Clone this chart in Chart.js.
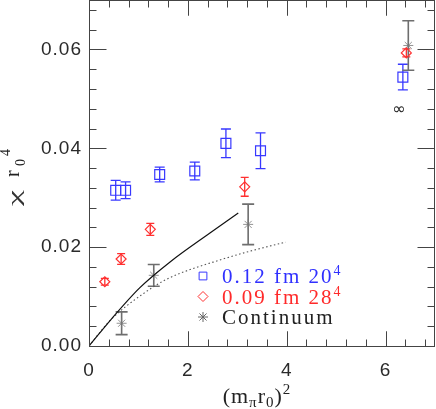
<!DOCTYPE html>
<html><head><meta charset="utf-8">
<script src="https://cdn.jsdelivr.net/npm/chart.js@4.4.1/dist/chart.umd.min.js"></script>
<style>html,body{margin:0;padding:0;background:#fff;overflow:hidden}</style>
</head><body><canvas id="c" width="436" height="409" style="width:436px;height:409px;display:block"></canvas>
<script>
// ---- data ----
const X_TICKS = [0, 2, 4, 6];
const Y_TICKS = [0, 0.02, 0.04, 0.06];

const BLUE_X   = [0.54, 0.74, 1.43, 2.14, 2.77, 3.47, 6.35];
const BLUE_Y   = [0.0315, 0.0315, 0.0347, 0.0354, 0.0410, 0.0395, 0.0544];
const BLUE_ERR = [0.0020, 0.0017, 0.0015, 0.0018, 0.0029, 0.0036, 0.0026];

const RED_X   = [0.32, 0.65, 1.24, 3.15, 6.42];
const RED_Y   = [0.0130, 0.0176, 0.0236, 0.0322, 0.0593];
const RED_ERR = [0.0007, 0.0011, 0.0012, 0.0019, 0.0008];

const CONT_X   = [0.66, 1.31, 3.22, 6.46];
const CONT_Y   = [0.0046, 0.0143, 0.0246, 0.0608];
const CONT_ERR = [0.0023, 0.0022, 0.0041, 0.0050];

const SOLID_X = [0, 0.44, 1.03, 1.64, 2.44, 3.02];
const SOLID_Y = [0, 0.0053, 0.0118, 0.0170, 0.0228, 0.0269];

const DOT_X = [0, 0.44, 1.10, 1.57, 2.68, 3.89, 3.98];
const DOT_Y = [0, 0.0053, 0.0106, 0.0135, 0.0175, 0.0208, 0.0210];

const LEGEND = [
  { text: '0.12 fm 20', sup: '4', color: '#3030ff', mark: '#3838ff', style: 'rect' },
  { text: '0.09 fm 28', sup: '4', color: '#ff2a2a', mark: '#ff3030', style: 'rectRot' },
  { text: 'Continuum', sup: '', color: '#222222', mark: '#666666', style: 'star' }
];
const INF_LABEL = { x: 6.27, y: 0.0477, text: '\u221E' };

const BLUE = '#3838ff', RED = '#ff3030';

const pts = (xs, ys) => xs.map((x, i) => ({ x: x, y: ys[i] }));

const ERRS = [
  { xs: BLUE_X, ys: BLUE_Y, es: BLUE_ERR, color: BLUE, cap: 5, lw: 1.3 },
  { xs: RED_X, ys: RED_Y, es: RED_ERR, color: RED, cap: 4, lw: 1.3 },
  { xs: CONT_X, ys: CONT_Y, es: CONT_ERR, color: '#6e6e6e', cap: 6, lw: 1.6 }
];

const SERIF = '"Liberation Serif", "DejaVu Serif", serif';

const zeroPad = s => { s.paddingTop = 0; s.paddingBottom = 0; s.paddingLeft = 0; s.paddingRight = 0; };

const overlay = {
  id: 'overlay',
  beforeDraw(chart) { chart.ctx.letterSpacing = '1px'; },
  beforeDatasetsDraw(chart) {
    const ctx = chart.ctx, xs = chart.scales.x, ys = chart.scales.y;
    ctx.save();
    ctx.letterSpacing = '0px';
    ERRS.forEach(s => {
      ctx.strokeStyle = s.color; ctx.lineWidth = s.lw;
      s.xs.forEach((x, i) => {
        const px = xs.getPixelForValue(x);
        const pt = ys.getPixelForValue(s.ys[i] + s.es[i]);
        const pb = ys.getPixelForValue(s.ys[i] - s.es[i]);
        ctx.beginPath();
        ctx.moveTo(px, pt); ctx.lineTo(px, pb);
        ctx.moveTo(px - s.cap, pt); ctx.lineTo(px + s.cap, pt);
        ctx.moveTo(px - s.cap, pb); ctx.lineTo(px + s.cap, pb);
        ctx.stroke();
      });
    });
    ctx.restore();
  },
  afterDraw(chart) {
    const ctx = chart.ctx, xs = chart.scales.x, ys = chart.scales.y, a = chart.chartArea;
    ctx.save();
    ctx.letterSpacing = '0px';
    // frame
    ctx.strokeStyle = '#444'; ctx.lineWidth = 1;
    const L = Math.round(a.left) + 0.5, R = Math.round(a.right) - 0.5, T = Math.round(a.top) + 0.5, B = Math.round(a.bottom) + 0.5;
    ctx.strokeRect(L, T, R - L, B - T);
    ctx.beginPath();
    for (let k = 0; k <= 17; k++) {
      const v = k * 0.4; if (v > xs.max + 1e-9) break;
      const major = X_TICKS.some(t => Math.abs(t - v) < 1e-6);
      const len = major ? 15 : 7;
      const px = Math.round(xs.getPixelForValue(v)) + 0.5;
      ctx.moveTo(px, B); ctx.lineTo(px, B - len);
      ctx.moveTo(px, T); ctx.lineTo(px, T + len);
    }
    for (const t of X_TICKS) {
      const px = Math.round(xs.getPixelForValue(t)) + 0.5;
      ctx.moveTo(px, B); ctx.lineTo(px, B - 15);
      ctx.moveTo(px, T); ctx.lineTo(px, T + 15);
    }
    for (let k = 0; k <= 17; k++) {
      const v = k * 0.004; if (v > ys.max + 1e-9) break;
      const major = Y_TICKS.some(t => Math.abs(t - v) < 1e-9);
      const len = major ? 17 : 7;
      const py = Math.round(ys.getPixelForValue(v)) + 0.5;
      ctx.moveTo(L, py); ctx.lineTo(L + len, py);
      ctx.moveTo(R, py); ctx.lineTo(R - len, py);
    }
    ctx.stroke();

    // legend
    const lx = 203, ly0 = 276, dy = 20.5;
    LEGEND.forEach((e, i) => {
      const cy = ly0 + i * dy;
      ctx.lineWidth = 1;
      ctx.strokeStyle = e.mark;
      ctx.fillStyle = 'rgba(0,0,0,0)';
      Chart.helpers.drawPoint(ctx, { pointStyle: e.style, radius: e.style === 'rect' ? 5.5 : 5, borderWidth: 1 }, lx, cy);
      ctx.fillStyle = e.color;
      ctx.font = '21px ' + SERIF;
      ctx.letterSpacing = '2px';
      ctx.textAlign = 'left'; ctx.textBaseline = 'alphabetic';
      ctx.fillText(e.text, 222, cy + 7);
      if (e.sup) {
        const w = ctx.measureText(e.text).width;
        ctx.font = '14px ' + SERIF; ctx.letterSpacing = '0px';
        ctx.fillText(e.sup, 222 + w, cy - 1);
      }
    });
    ctx.letterSpacing = '0px';

    // infinity label
    ctx.fillStyle = '#222';
    ctx.font = '16px "DejaVu Sans", sans-serif';
    ctx.textAlign = 'center'; ctx.textBaseline = 'middle';
    ctx.fillText(INF_LABEL.text, xs.getPixelForValue(INF_LABEL.x), ys.getPixelForValue(INF_LABEL.y));

    // x title: (m_pi r_0)^2
    ctx.fillStyle = '#222'; ctx.textAlign = 'left'; ctx.textBaseline = 'alphabetic';
    const parts = [
      { t: '(m', f: 22, dy: 0 }, { t: '\u03C0', f: 15, dy: 4 }, { t: 'r', f: 22, dy: 0 },
      { t: '0', f: 15, dy: 4 }, { t: ')', f: 22, dy: 0 }, { t: '2', f: 15, dy: -9 }
    ];
    let tot = 0;
    parts.forEach(p => { ctx.font = p.f + 'px ' + SERIF; ctx.letterSpacing = '1px'; p.w = ctx.measureText(p.t).width; tot += p.w; });
    let x0 = 257 - tot / 2;
    parts.forEach(p => { ctx.font = p.f + 'px ' + SERIF; ctx.letterSpacing = '1px'; ctx.fillText(p.t, x0, 403 + p.dy); x0 += p.w; });
    ctx.letterSpacing = '0px';

    // y title: chi r_0^4 (rotated)
    const rot = (t, size, bx, sy, stretch) => {
      ctx.save();
      ctx.font = size + 'px ' + SERIF;
      ctx.translate(bx, sy); ctx.rotate(-Math.PI / 2);
      if (stretch) ctx.scale(stretch / ctx.measureText(t).width, 1);
      ctx.fillText(t, 0, 0);
      ctx.restore();
    };
    ctx.textAlign = 'left'; ctx.textBaseline = 'alphabetic';
    ctx.fillStyle = '#333';
    rot('\u03C7', 17, 20, 206, 16);
    ctx.fillStyle = '#222';
    rot('r', 20, 19, 177);
    rot('0', 14, 25, 166);
    rot('4', 14, 10, 156);
    ctx.restore();
  }
};

new Chart(document.getElementById('c'), {
  type: 'scatter',
  data: {
    datasets: [
      { type: 'line', data: pts(SOLID_X, SOLID_Y), borderColor: '#111', borderWidth: 1.2, pointRadius: 0, cubicInterpolationMode: 'monotone', fill: false },
      { type: 'line', data: pts(DOT_X, DOT_Y), borderColor: '#555', borderWidth: 1.1, borderDash: [1.5, 2.5], pointRadius: 0, cubicInterpolationMode: 'monotone', fill: false },
      { data: pts(BLUE_X, BLUE_Y), pointStyle: 'rect', pointRadius: 7, borderColor: BLUE, backgroundColor: 'rgba(0,0,0,0)', borderWidth: 1.2 },
      { data: pts(RED_X, RED_Y), pointStyle: 'rectRot', pointRadius: 5, borderColor: RED, backgroundColor: 'rgba(0,0,0,0)', borderWidth: 1.2 },
      { data: pts(CONT_X, CONT_Y), pointStyle: 'star', pointRadius: 5, borderColor: '#777', backgroundColor: 'rgba(0,0,0,0)', borderWidth: 0.8 }
    ]
  },
  options: {
    responsive: false, animation: false, devicePixelRatio: 1, events: [],
    layout: { autoPadding: false, padding: { top: 0, right: 1, left: 0, bottom: 0 } },
    plugins: { legend: { display: false }, tooltip: { enabled: false } },
    scales: {
      x: {
        type: 'linear', min: 0, max: 7,
        afterBuildTicks: s => { s.ticks = X_TICKS.map(v => ({ value: v })); },
        afterFit: s => { s.height = 63; zeroPad(s); },
        grid: { display: false, drawTicks: false }, border: { display: false },
        ticks: { padding: 13, color: '#2a2a2a', font: { family: '"Liberation Sans", sans-serif', size: 19 }, callback: v => String(v), maxRotation: 0, autoSkip: false }
      },
      y: {
        type: 'linear', min: 0, max: 0.07,
        afterBuildTicks: s => { s.ticks = Y_TICKS.map(v => ({ value: v })); },
        afterFit: s => { s.width = 89; zeroPad(s); },
        grid: { display: false, drawTicks: false }, border: { display: false },
        ticks: { padding: 7, color: '#2a2a2a', font: { family: '"Liberation Sans", sans-serif', size: 19 }, callback: v => v.toFixed(2), autoSkip: false }
      }
    }
  },
  plugins: [overlay]
});
</script>
</body></html>
